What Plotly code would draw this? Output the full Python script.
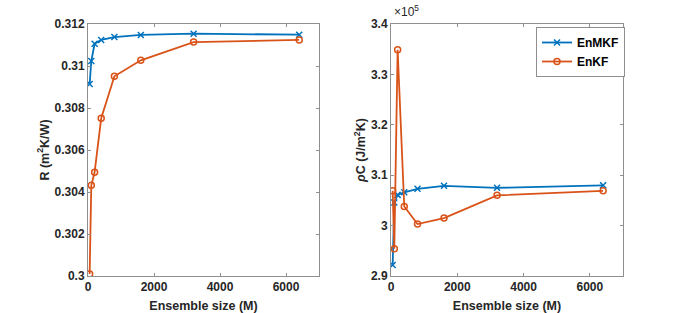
import plotly.graph_objects as go

ensemble_size = [50, 100, 200, 400, 800, 1600, 3200, 6400]
R_enmkf = [0.30914, 0.31024, 0.31106, 0.31124, 0.31138, 0.31148, 0.31154, 0.31149]
R_enkf = [0.30010, 0.30432, 0.30494, 0.30751, 0.30951, 0.31027, 0.31114, 0.31124]
rhoC_enmkf = [292200, 304600, 306100, 306600, 307300, 307900, 307500, 308000]
rhoC_enkf = [306900, 295400, 334900, 303800, 300300, 301500, 306000, 306900]

x_ticks = [0, 2000, 4000, 6000]
R_ticks = [0.300, 0.302, 0.304, 0.306, 0.308, 0.310, 0.312]
R_ticktext = ["0.3", "0.302", "0.304", "0.306", "0.308", "0.31", "0.312"]
rhoC_ticks = [290000, 300000, 310000, 320000, 330000, 340000]
rhoC_ticktext = ["2.9", "3", "3.1", "3.2", "3.3", "3.4"]

blue = "#0072BD"
orange = "#D95319"
FONT = "Liberation Sans, Arial, Helvetica, sans-serif"

fig = go.Figure()

def add_series(x, y, name, color, symbol, xa, ya, show):
    fig.add_trace(go.Scatter(
        x=x, y=y, name=name, mode="lines+markers",
        line=dict(color=color, width=1.8),
        marker=dict(symbol=symbol, size=6, color=color,
                    line=dict(color=color, width=1.5)),
        xaxis=xa, yaxis=ya, showlegend=show))

add_series(ensemble_size, R_enmkf, "EnMKF", blue, "x-thin", "x", "y", False)
add_series(ensemble_size, R_enkf, "EnKF", orange, "circle-open", "x", "y", False)
add_series(ensemble_size, rhoC_enmkf, "EnMKF", blue, "x-thin", "x2", "y2", True)
add_series(ensemble_size, rhoC_enkf, "EnKF", orange, "circle-open", "x2", "y2", True)

W, H = 688, 313
def px(v): return v / W
def py(v): return 1 - v / H

axis_common = dict(
    showline=True, linecolor="#8f8f8f", linewidth=1, mirror="allticks",
    ticks="inside", ticklen=3, tickcolor="#8f8f8f", showgrid=False, zeroline=False,
    automargin=False,
    tickfont=dict(family=FONT, size=12, color="#262626", weight="bold"),
)
title_font = dict(family=FONT, size=12.5, color="#262626", weight="bold")

fig.update_layout(
    width=W, height=H, margin=dict(l=0, r=0, t=0, b=0, autoexpand=False),
    plot_bgcolor="white", paper_bgcolor="white",
    font=dict(family=FONT, color="#262626"),
    xaxis=dict(domain=[px(88), px(319)], range=[0, 7000], tickvals=x_ticks,
               title=dict(text="Ensemble size (M)", standoff=7, font=title_font),
               anchor="y", **axis_common),
    yaxis=dict(domain=[py(276), py(24)], range=[0.3, 0.312], tickvals=R_ticks,
               ticktext=R_ticktext,
               title=dict(text="R (m<sup>2</sup>K/W)", standoff=2, font=title_font),
               anchor="x", **axis_common),
    xaxis2=dict(domain=[px(391), px(623)], range=[0, 7000], tickvals=x_ticks,
                title=dict(text="Ensemble size (M)", standoff=7, font=title_font),
                anchor="y2", **axis_common),
    yaxis2=dict(domain=[py(276), py(24)], range=[290000, 340000], tickvals=rhoC_ticks,
                ticktext=rhoC_ticktext,
                title=dict(text="<i>ρ</i>C (J/m<sup>2</sup>K)", standoff=2, font=title_font),
                anchor="x2", **axis_common),
    legend=dict(x=px(536), y=py(27), xanchor="left", yanchor="top",
                bgcolor="white", bordercolor="#8f8f8f", borderwidth=1,
                font=dict(family=FONT, size=12, color="#000000", weight="bold"),
                itemwidth=30, tracegroupgap=0),
    annotations=[dict(text="×10<sup>5</sup>", x=px(392), y=py(21), xref="paper", yref="paper",
                      xanchor="left", yanchor="bottom", showarrow=False,
                      font=dict(family=FONT, size=12, color="#262626"))],
)

fig.write_html("out.html", config={"displayModeBar": False},
               post_script="document.body.style.margin='0px';document.body.style.overflow='hidden';")
